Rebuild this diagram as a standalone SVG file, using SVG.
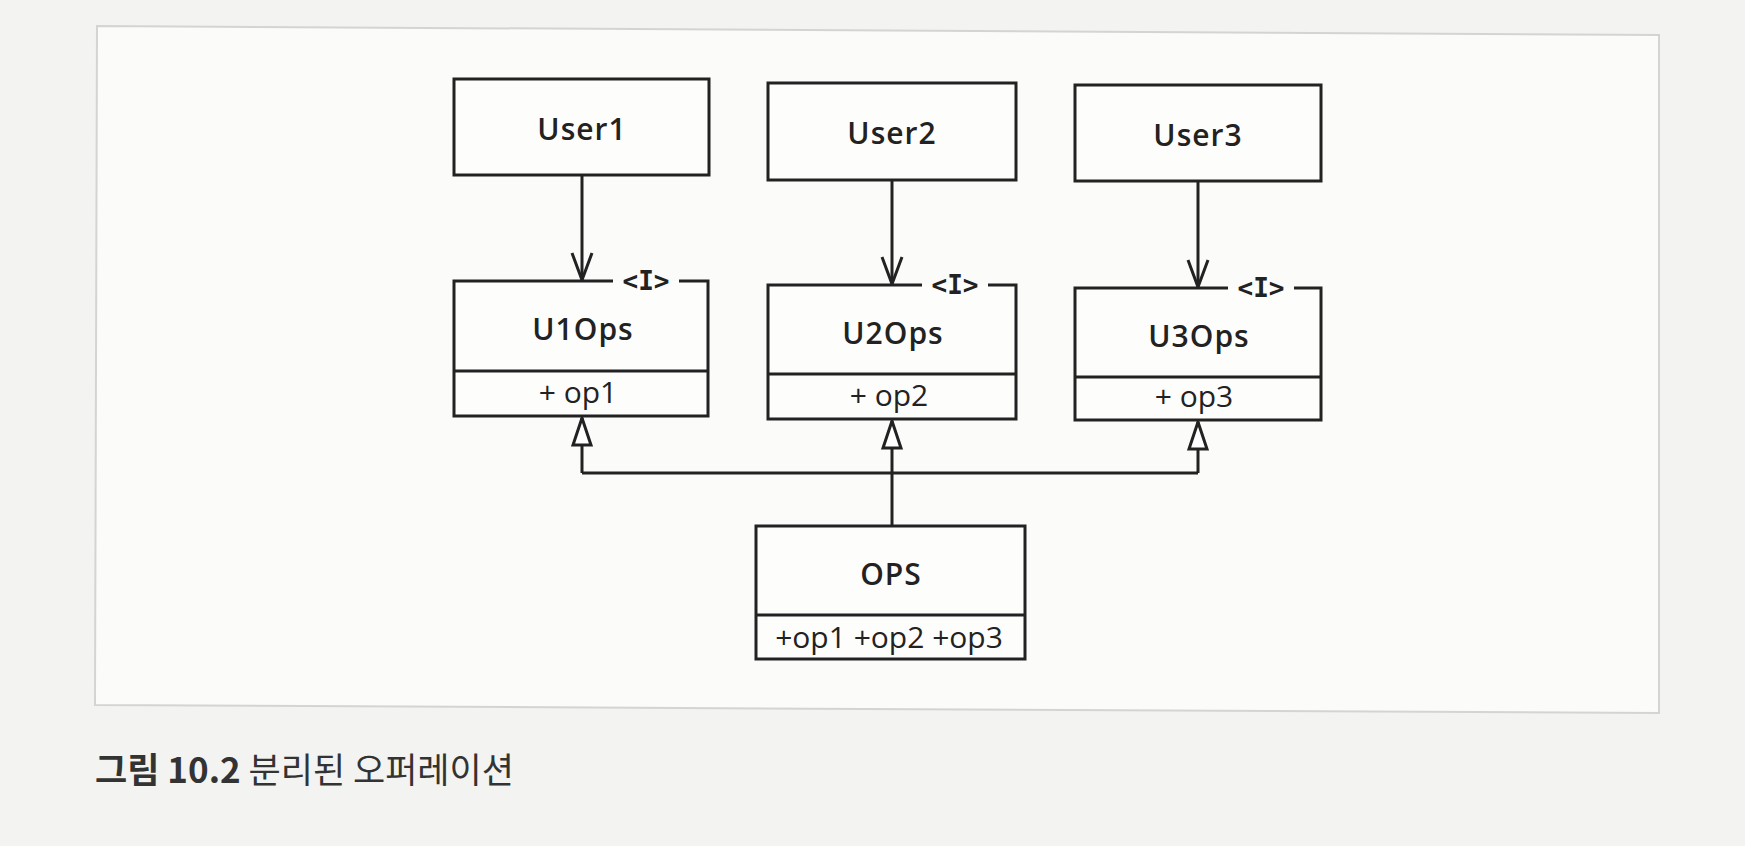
<svg xmlns="http://www.w3.org/2000/svg" width="1745" height="846" viewBox="0 0 1745 846">
<defs>
<style>
.box{fill:#fdfdfc;stroke:#222;stroke-width:3}
.ln{fill:none;stroke:#222;stroke-width:3}
.name{font-family:"Open Sans","Noto Sans",sans-serif;font-weight:600;font-size:30px;fill:#222;text-anchor:middle;letter-spacing:1px}
.op{font-family:"Open Sans","Noto Sans",sans-serif;font-weight:400;font-size:30px;fill:#222;text-anchor:middle}
.st{font-family:"DejaVu Sans Mono",monospace;font-weight:bold;font-size:26px;fill:#222;text-anchor:middle}
.cap{font-family:"Noto Sans CJK KR","Noto Sans",sans-serif;font-size:35px;fill:#333}
</style>
<marker id="open" markerUnits="userSpaceOnUse" markerWidth="32" markerHeight="26" viewBox="0 0 32 26" refX="29" refY="13" orient="auto">
<path d="M2,3 L29,13 L2,23" fill="none" stroke="#222" stroke-width="3"/>
</marker>
<marker id="tri" markerUnits="userSpaceOnUse" markerWidth="32" markerHeight="24" viewBox="0 0 32 24" refX="29" refY="12" orient="auto">
<path d="M2,3 L29,12 L2,21 Z" fill="#fff" stroke="#222" stroke-width="3" stroke-linejoin="miter"/>
</marker>
</defs>
<rect x="0" y="0" width="1745" height="846" fill="#f3f3f1"/>
<path d="M97,26 L1659,35 L1659,713 L95,705 Z" fill="#fbfbfa" stroke="#d4d4d2" stroke-width="2"/>

<g id="connectors">
<path class="ln" d="M582,175 V280" marker-end="url(#open)"/>
<path class="ln" d="M892,180 V284" marker-end="url(#open)"/>
<path class="ln" d="M1198,181 V287" marker-end="url(#open)"/>
<path class="ln" d="M582,473 H1198"/>
<path class="ln" d="M582,473 V418" marker-end="url(#tri)"/>
<path class="ln" d="M1198,473 V422" marker-end="url(#tri)"/>
<path class="ln" d="M892,526 V421" marker-end="url(#tri)"/>
</g>

<g id="User1">
<rect class="box" x="454" y="79" width="255" height="96"/>
<text class="name" x="582" y="140">User1</text>
</g>
<g id="User2">
<rect class="box" x="768" y="83" width="248" height="97"/>
<text class="name" x="892" y="144">User2</text>
</g>
<g id="User3">
<rect class="box" x="1075" y="85" width="246" height="96"/>
<text class="name" x="1198" y="146">User3</text>
</g>

<g id="U1Ops">
<rect x="454" y="281" width="254" height="135" fill="#fdfdfc"/>
<path class="ln" d="M613,281 H454 V416 H708 V281 H679"/>
<path class="ln" d="M454,371 H708"/>
<text class="st" x="646" y="290">&lt;I&gt;</text>
<text class="name" x="583" y="340">U1Ops</text>
<text class="op" x="578" y="403">+ op1</text>
</g>
<g id="U2Ops">
<rect x="768" y="285" width="248" height="134" fill="#fdfdfc"/>
<path class="ln" d="M922,285 H768 V419 H1016 V285 H988"/>
<path class="ln" d="M768,374 H1016"/>
<text class="st" x="955" y="294">&lt;I&gt;</text>
<text class="name" x="893" y="344">U2Ops</text>
<text class="op" x="889" y="406">+ op2</text>
</g>
<g id="U3Ops">
<rect x="1075" y="288" width="246" height="132" fill="#fdfdfc"/>
<path class="ln" d="M1228,288 H1075 V420 H1321 V288 H1294"/>
<path class="ln" d="M1075,377 H1321"/>
<text class="st" x="1261" y="297">&lt;I&gt;</text>
<text class="name" x="1199" y="347">U3Ops</text>
<text class="op" x="1194" y="407">+ op3</text>
</g>

<g id="OPS">
<rect class="box" x="756" y="526" width="269" height="133"/>
<path class="ln" d="M756,615 H1025"/>
<text class="name" x="891" y="585">OPS</text>
<text class="op" x="889" y="648">+op1 +op2 +op3</text>
</g>

<g id="caption">
<text class="cap" x="95" y="783"><tspan font-weight="bold">그림 10.2</tspan> 분리된 오퍼레이션</text>
</g>
</svg>
